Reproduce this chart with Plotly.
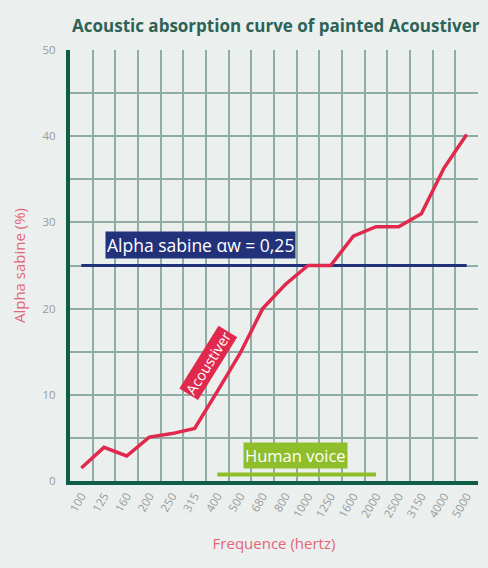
import plotly.graph_objects as go

freqs = ["100", "125", "160", "200", "250", "315", "400", "500", "680", "800",
         "1000", "1250", "1600", "2000", "2500", "3150", "4000", "5000"]
absorption = [1.5, 3.9, 2.9, 5.1, 5.5, 6.1, 10.4, 14.8, 20.0, 22.8,
              25.0, 25.0, 28.4, 29.5, 29.5, 31.0, 36.3, 40.2]
alpha_w = 25
voice_start, voice_end = "400", "2000"

BG = "#ebf0ef"
GRID = "#8fada4"
AXIS = "#0f5c47"
RED = "#e0294c"
NAVY = "#22327a"
GREEN = "#8fbe2b"
FONT = "Open Sans"

fig = go.Figure()

fig.add_trace(go.Scatter(x=[freqs[0], freqs[-1]], y=[alpha_w, alpha_w], mode="lines",
                         line=dict(color=NAVY, width=3), hoverinfo="skip"))
fig.add_trace(go.Scatter(x=[voice_start, voice_end], y=[0.75, 0.75], mode="lines",
                         line=dict(color=GREEN, width=4), hoverinfo="skip"))
fig.add_trace(go.Scatter(x=freqs, y=absorption, mode="lines",
                         line=dict(color=RED, width=3.5)))

fig.add_annotation(xref="paper", yref="paper", x=0.321, y=0.548,
                   xanchor="center", yanchor="middle",
                   text="Alpha sabine \u03b1w = 0,25", showarrow=False,
                   font=dict(family=FONT, size=17.5, color="white"),
                   bgcolor=NAVY, borderpad=1)
fig.add_annotation(xref="paper", yref="paper", x=0.553, y=0.060,
                   xanchor="center", yanchor="middle",
                   text="Human voice", showarrow=False,
                   font=dict(family=FONT, size=16.5, color="white"),
                   bgcolor=GREEN, borderpad=1)
fig.add_annotation(xref="paper", yref="paper", x=0.34, y=0.274,
                   xanchor="center", yanchor="middle",
                   text="Acoustiver", showarrow=False, textangle=-58,
                   font=dict(family=FONT, size=14.5, color="white"),
                   bgcolor=RED, borderpad=1)

fig.update_layout(
    width=488, height=568,
    paper_bgcolor=BG, plot_bgcolor=BG,
    margin=dict(l=70, r=10, t=50, b=87),
    showlegend=False,
    title=dict(text="<b>Acoustic absorption curve of painted Acoustiver</b>",
               x=0.565, xanchor="center", y=0.955, yanchor="middle",
               font=dict(family=FONT, size=17, color="#2c6356")),
    xaxis=dict(type="category", categoryorder="array", categoryarray=freqs,
               tickson="boundaries", showgrid=True, gridcolor=GRID, gridwidth=1.5,
               showline=True, linecolor=AXIS, linewidth=4,
               ticks="outside", ticklen=13, tickcolor=BG,
               tickangle=-60, tickfont=dict(family=FONT, size=11.5, color="#9a9a9a"),
               title=dict(text="Frequence (hertz)", standoff=20,
                          font=dict(family=FONT, size=15, color="#e36479")),
               range=[-0.5, 17.5], zeroline=False),
    yaxis=dict(range=[0, 50], dtick=10, showgrid=True, gridcolor=GRID, gridwidth=1.5,
               minor=dict(dtick=5, showgrid=True, gridcolor=GRID, gridwidth=1.5),
               showline=True, linecolor=AXIS, linewidth=4, zeroline=False,
               ticks="outside", ticklen=8, tickcolor=BG,
               tickfont=dict(family=FONT, size=11.5, color="#9a9a9a"),
               title=dict(text="Alpha sabine (%)", standoff=14,
                          font=dict(family=FONT, size=15, color="#e36479"))),
)

fig.write_html("out.html", config={"displayModeBar": False},
               post_script="document.body.style.margin='0';document.body.style.overflow='hidden';")
